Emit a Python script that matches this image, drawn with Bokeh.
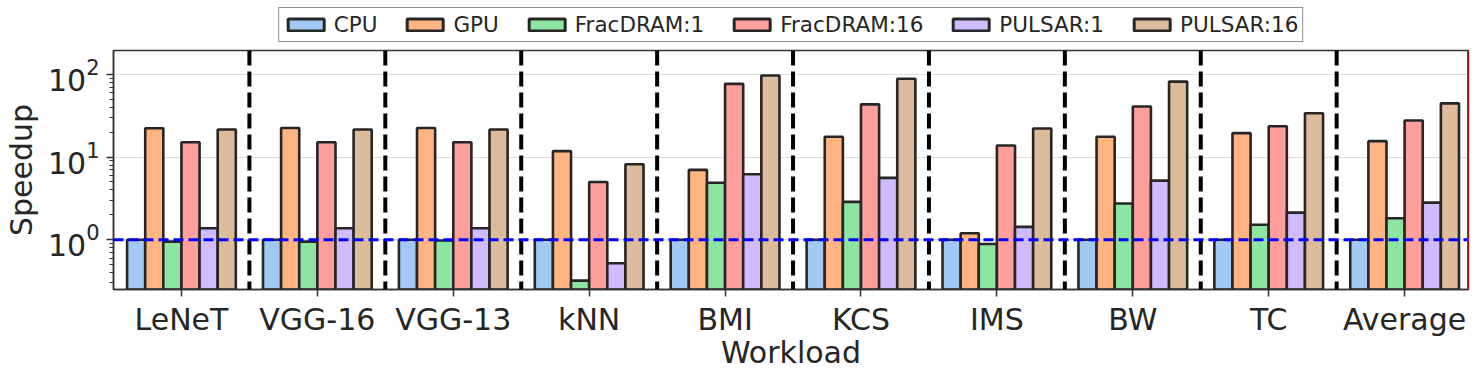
from bokeh.plotting import figure
from bokeh.layouts import column
from bokeh.models import Span, Legend, LegendItem, FixedTicker, LogTicker, Range1d
from bokeh.embed import file_html
from bokeh.resources import INLINE

workloads = ["LeNeT", "VGG-16", "VGG-13", "kNN", "BMI", "KCS", "IMS", "BW", "TC", "Average"]
series_names = ["CPU", "GPU", "FracDRAM:1", "FracDRAM:16", "PULSAR:1", "PULSAR:16"]
cpu = [1, 1, 1, 1, 1, 1, 1, 1, 1, 1]
gpu = [22.3, 22.5, 22.5, 11.8, 7.0, 17.6, 1.2, 17.6, 19.5, 15.6]
frac1 = [0.95, 0.95, 0.98, 0.32, 4.9, 2.87, 0.89, 2.74, 1.52, 1.82]
frac16 = [15.1, 15.1, 15.1, 5.0, 77.0, 43.5, 13.8, 41.0, 23.6, 27.7]
pulsar1 = [1.38, 1.38, 1.38, 0.52, 6.2, 5.6, 1.43, 5.2, 2.13, 2.81]
pulsar16 = [21.6, 21.6, 21.6, 8.2, 97.0, 88.7, 22.2, 82.0, 33.9, 44.7]
colors = ["#a1c9f4", "#ffb482", "#8de5a1", "#ff9f9b", "#d0bbff", "#debb9b"]

all_series = [cpu, gpu, frac1, frac16, pulsar1, pulsar16]
FONT = "DejaVu Sans"
TXT = "#262626"

# legend strip (same frame left/right as main plot so the legend centres over the frame)
top = figure(width=1479, height=46, min_border_left=111, min_border_right=11,
             min_border_top=0, min_border_bottom=0,
             x_range=Range1d(0, 1), y_range=Range1d(0, 1),
             x_axis_location=None, y_axis_location=None,
             output_backend="svg", toolbar_location=None)
top.outline_line_color = None
top.xgrid.visible = False
top.ygrid.visible = False

p = figure(width=1479, height=331, min_border_left=111, min_border_right=11,
           min_border_top=4, min_border_bottom=88, y_axis_type="log",
           x_range=Range1d(-0.5, 9.47), y_range=Range1d(0.25, 195),
           output_backend="svg", toolbar_location=None)

n = len(series_names)
bw = 0.8 / n
items = []
for k, (name, vals, col) in enumerate(zip(series_names, all_series, colors)):
    xs = [i - 0.4 + bw * (k + 0.5) for i in range(len(workloads))]
    p.vbar(x=xs, top=vals, bottom=0.001, width=bw, fill_color=col,
           line_color="#262626", line_width=2.6)
    # tiny proxy bar hidden behind the opaque legend box, used only for the swatch
    d = top.vbar(x=[0.5], top=[0.55], bottom=0.45, width=0.001, fill_color=col,
                 line_color="#262626", line_width=3)
    items.append(LegendItem(label=name, renderers=[d]))

for i in range(len(workloads) - 1):
    p.add_layout(Span(location=i + 0.5, dimension="height", line_color="black",
                      line_width=4, line_dash="15 6"))
p.add_layout(Span(location=1, dimension="width", line_color="blue",
                  line_width=3, line_dash="10 5"))
p.add_layout(Span(location=9.47, dimension="height", line_color="red", line_width=3))

legend = Legend(items=items, orientation="horizontal", location="bottom_center",
                label_text_font=FONT, label_text_font_size="21.5px", label_text_color=TXT,
                glyph_width=45, glyph_height=15, label_standoff=6, spacing=25,
                padding=4, margin=4, border_line_color="#222222", border_line_width=1.2,
                background_fill_color="white", background_fill_alpha=1.0)
top.add_layout(legend, "center")

p.outline_line_color = "#333333"
p.outline_line_width = 1.5
p.xgrid.visible = False
p.ygrid.grid_line_color = "#dddddd"
p.ygrid.grid_line_width = 1.2

p.xaxis.ticker = FixedTicker(ticks=list(range(len(workloads))))
p.xaxis.major_label_overrides = {i: w for i, w in enumerate(workloads)}
p.xaxis.minor_tick_line_color = None
p.yaxis.ticker = LogTicker(num_minor_ticks=10)

for ax in [p.xaxis[0], p.yaxis[0]]:
    ax.axis_line_color = "#333333"
    ax.axis_line_width = 1.5
    ax.major_tick_line_color = "#333333"
    ax.major_tick_line_width = 1.5
    ax.major_tick_out = 7
    ax.major_tick_in = 0
    ax.major_label_text_font = FONT
    ax.major_label_text_font_size = "30px"
    ax.major_label_text_color = TXT
    ax.axis_label_text_font = FONT
    ax.axis_label_text_font_size = "30px"
    ax.axis_label_text_font_style = "normal"
    ax.axis_label_text_color = TXT

p.xaxis.major_label_standoff = 5
p.yaxis.major_label_standoff = 7
p.yaxis.minor_tick_line_color = "#333333"
p.yaxis.minor_tick_line_width = 1
p.yaxis.minor_tick_out = 4
p.yaxis.minor_tick_in = 0
p.xaxis.axis_label = "Workload"
p.yaxis.axis_label = "Speedup"
p.xaxis.axis_label_standoff = -5
p.yaxis.axis_label_standoff = 6

layout = column(top, p, spacing=0)
open("out.html", "w").write(file_html(layout, INLINE))
